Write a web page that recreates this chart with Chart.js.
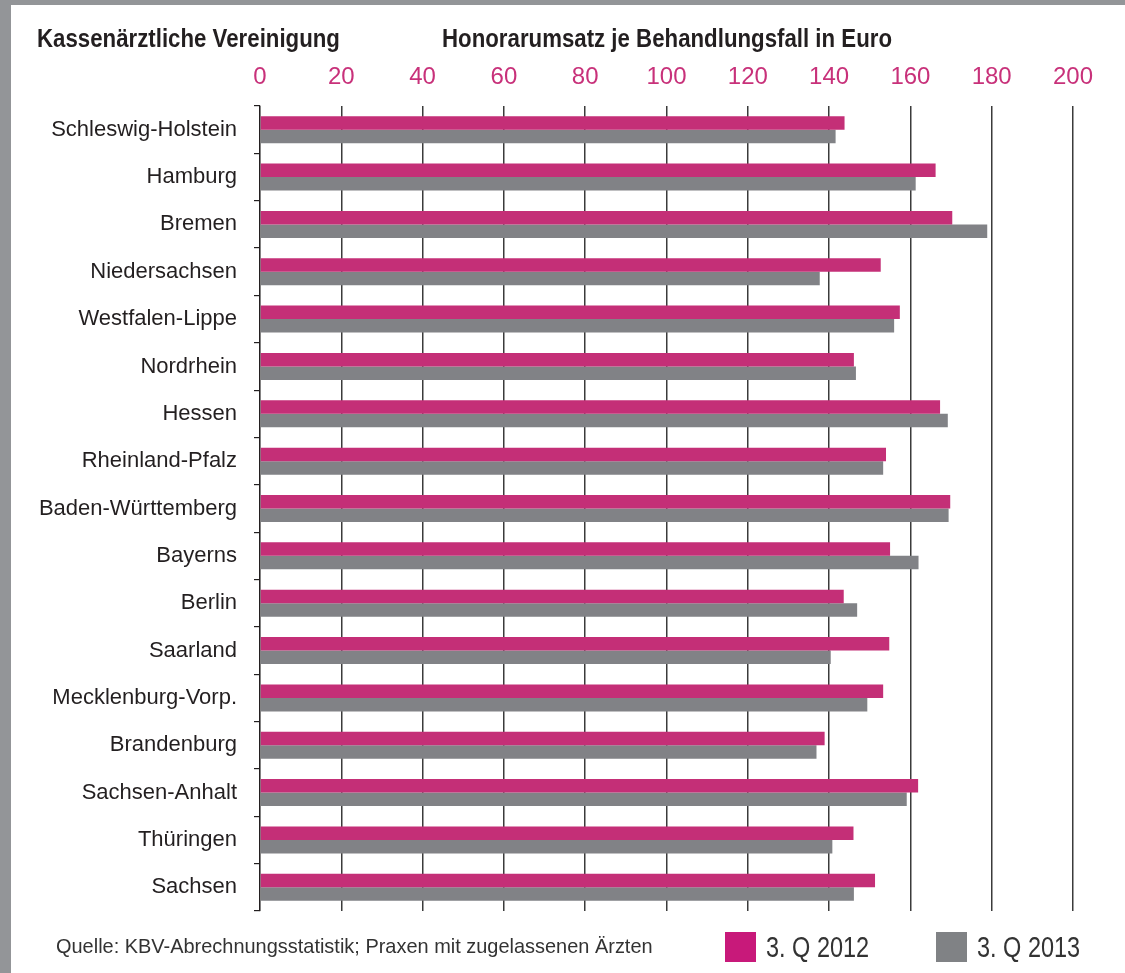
<!DOCTYPE html>
<html lang="de">
<head>
<meta charset="utf-8">
<title>Honorarumsatz je Behandlungsfall</title>
<script src="https://cdn.jsdelivr.net/npm/chart.js@4.4.1/dist/chart.umd.min.js"></script>
<style>
  html, body { margin: 0; padding: 0; background: #fff; }
  body { width: 1125px; height: 973px; position: relative; overflow: hidden;
         font-family: "Liberation Sans Narrow", "Arial Narrow", "Liberation Sans", sans-serif; color: #231f20; }
  #frame { position: absolute; left: 0; top: 0; width: 1114px; height: 968px;
           border-left: 11px solid #939598; border-top: 5px solid #939598; }
  #wrap { position: absolute; left: 0; top: 0; width: 1114px; height: 968px; }
  .head { position: absolute; top: 19px; font-weight: bold; font-size: 25px; white-space: nowrap;
          transform: scaleX(0.89); transform-origin: left center; }
  #source { position: absolute; left: 45px; top: 929px; font-size: 21px; color: #333; white-space: nowrap;
            transform: scaleX(0.95); transform-origin: left center; }
  .item { position: absolute; top: 927px; height: 30px; white-space: nowrap; }
  .swatch { position: absolute; left: 0; top: 0; width: 31px; height: 30px; }
  .item span { position: absolute; left: 41px; top: -2px; font-size: 29px; line-height: 34px; color: #333;
               transform: scaleX(0.81); transform-origin: left center; }
</style>
</head>
<body>
<div id="frame">
  <div id="wrap"><canvas id="chart" width="1114" height="968"></canvas></div>
  <div class="head" style="left:26px">Kassenärztliche Vereinigung</div>
  <div class="head" style="left:431px">Honorarumsatz je Behandlungsfall in Euro</div>
  <div id="source">Quelle: KBV-Abrechnungsstatistik; Praxen mit zugelassenen Ärzten</div>
  <div id="legend"></div>
</div>
<script>
document.addEventListener('DOMContentLoaded', () => {

    // --- data ---
    const regions = [
        'Schleswig-Holstein', 'Hamburg', 'Bremen', 'Niedersachsen', 'Westfalen-Lippe',
        'Nordrhein', 'Hessen', 'Rheinland-Pfalz', 'Baden-Württemberg', 'Bayerns',
        'Berlin', 'Saarland', 'Mecklenburg-Vorp.', 'Brandenburg', 'Sachsen-Anhalt',
        'Thüringen', 'Sachsen'
    ];
    const q3_2012 = [143.8, 166.2, 170.3, 152.7, 157.4, 146.1, 167.3, 154.0, 169.8, 155.0,
                     143.6, 154.8, 153.3, 138.9, 161.9, 146.0, 151.3];
    const q3_2013 = [141.6, 161.3, 178.9, 137.7, 156.0, 146.6, 169.2, 153.3, 169.4, 162.0,
                     146.9, 140.4, 149.4, 136.9, 159.1, 140.8, 146.1];
    const seriesNames = ['3. Q 2012', '3. Q 2013'];
    const xMin = 0, xMax = 200, xStep = 20;

    const PINK = '#c42f77';
    const GREY = '#818286';
    const FONT = '"Liberation Sans Narrow", "Arial Narrow", "Liberation Sans", sans-serif';

    const ctx = document.getElementById('chart').getContext('2d');
    const chart = new Chart(ctx, {
        type: 'bar',
        data: {
            labels: regions,
            datasets: [
                { label: seriesNames[0], data: q3_2012, backgroundColor: PINK },
                { label: seriesNames[1], data: q3_2013, backgroundColor: GREY }
            ]
        },
        options: {
            indexAxis: 'y',
            responsive: false,
            animation: false,
            layout: { padding: { left: 0, right: 52, top: 0, bottom: 62 } },
            datasets: { bar: { categoryPercentage: 0.57, barPercentage: 1.0 } },
            plugins: {
                legend: { display: false },
                tooltip: { enabled: false }
            },
            scales: {
                x: {
                    position: 'top',
                    min: xMin,
                    max: xMax,
                    afterFit: (scale) => { scale.height = 101; },
                    ticks: {
                        stepSize: xStep,
                        color: '#c8317a',
                        padding: 14,
                        font: { family: FONT, size: 24 }
                    },
                    grid: { color: '#3b3b3b', lineWidth: 1.5, drawTicks: false },
                    border: { display: false }
                },
                y: {
                    afterFit: (scale) => { scale.width = 249; },
                    ticks: {
                        color: '#231f20',
                        padding: 17,
                        font: { family: FONT, size: 22 }
                    },
                    grid: { drawOnChartArea: false, drawTicks: true, tickLength: 6, color: '#231f20', lineWidth: 1.2 },
                    border: { display: true, color: '#231f20', width: 1.2 }
                }
            }
        }
    });

    // --- legend built from the datasets ---
    const legend = document.getElementById('legend');
    const swatchColors = ['#c8197a', '#808285'];
    const itemLeft = [714, 925];
    chart.data.datasets.forEach((ds, i) => {
        const item = document.createElement('div');
        item.className = 'item';
        item.style.left = itemLeft[i] + 'px';
        const sw = document.createElement('div');
        sw.className = 'swatch';
        sw.style.background = swatchColors[i];
        const txt = document.createElement('span');
        txt.textContent = ds.label;
        item.appendChild(sw);
        item.appendChild(txt);
        legend.appendChild(item);
    });
});
</script>
</body>
</html>
